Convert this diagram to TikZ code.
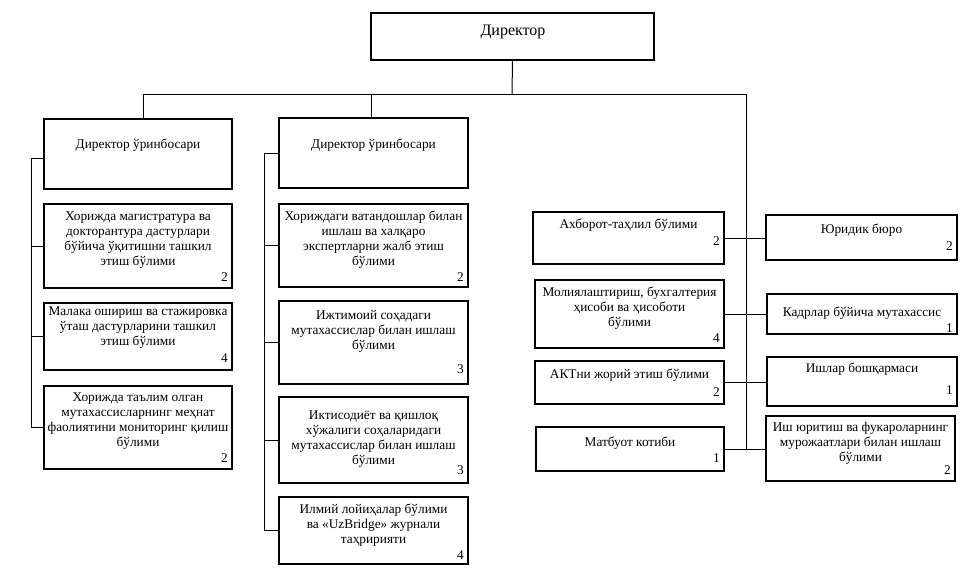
\documentclass[tikz,border=0pt]{standalone}
\usepackage{fontspec}
\setmainfont{Liberation Serif}
\tikzset{
  orgbox/.style={draw=black, line width=1pt, inner sep=0pt, outer sep=0pt},
  orgtxt/.style={inner sep=0pt, align=center, font=\fontsize{10}{11.25}\selectfont},
  orgnum/.style={inner sep=0pt, font=\fontsize{10}{11.25}\selectfont},
  link/.style={draw=black, line width=0.75pt}
}
% #1 name, #2 x1, #3 y1, #4 x2, #5 y2, #6 text top, #7 text, #8 number baseline, #9 number
\newcommand{\orgunit}[9]{%
  \node[orgbox, minimum width={(#4-#2)*0.75pt}, minimum height={(#5-#3)*0.75pt}] (#1) at ({(#2+#4)/2},{(#3+#5)/2}) {};
  \node[orgtxt, anchor=north] (#1t) at ({(#2+#4)/2},#6) {#7};
  \node[orgnum, anchor=base east] (#1n) at ({#4-4},#8) {#9};
}
\begin{document}
\begin{tikzpicture}[x=0.75pt, y=-0.75pt]
\useasboundingbox (0,0) rectangle (962,572);
\fill[white] (0,0) rectangle (962,572);

\node[orgbox, minimum width={(654-371)*0.75pt}, minimum height={(60-13)*0.75pt}] (dir) at (512.5,36.5) {};
\node[orgtxt, anchor=north, font=\fontsize{12}{14}\selectfont] (dirt) at (513,25) {Директор};

\orgunit{d1}{44}{119}{232}{189}{139}{Директор ўринбосари}{183}{}
\orgunit{a1}{44}{204}{232}{288}{211}{Хорижда магистратура ва\\докторантура дастурлари\\бўйича ўқитишни ташкил\\этиш бўлими}{281}{2}
\orgunit{a2}{44}{303}{232}{370}{306}{Малака ошириш ва стажировка\\ўташ дастурларини ташкил\\этиш бўлими}{362}{4}
\orgunit{a3}{44}{386}{232}{469}{392}{Хорижда таълим олган\\мутахассисларнинг меҳнат\\фаолиятини мониторинг қилиш\\бўлими}{462}{2}

\orgunit{d2}{279}{118}{468}{188}{139}{Директор ўринбосари}{183}{}
\orgunit{b1}{279}{204}{468}{287}{211}{Хориждаги ватандошлар билан\\ишлаш ва халқаро\\экспертларни жалб этиш\\бўлими}{281}{2}
\orgunit{b2}{279}{301}{468}{384}{310}{Ижтимоий соҳадаги\\мутахассислар билан ишлаш\\бўлими}{373}{3}
\orgunit{b3}{279}{397}{468}{483}{410}{Иктисодиёт ва қишлоқ\\хўжалиги соҳаларидаги\\мутахассислар билан ишлаш\\бўлими}{474}{3}
\orgunit{b4}{279}{497}{468}{564}{504}{Илмий лойиҳалар бўлими\\ва «UzBridge» журнали\\таҳририяти}{559}{4}

\orgunit{c1}{533}{212}{724}{264}{219}{Ахборот-таҳлил бўлими}{245}{2}
\orgunit{c2}{535}{280}{724}{348}{287}{Молиялаштириш, бухгалтерия\\ҳисоби ва ҳисоботи\\бўлими}{342}{4}
\orgunit{c3}{535}{361}{724}{404}{369}{АКТни жорий этиш бўлими}{396}{2}
\orgunit{c4}{536}{427}{724}{471}{437}{Матбуот котиби}{462}{1}

\orgunit{r1}{766}{215}{957}{260}{224}{Юридик бюро}{250}{2}
\orgunit{r2}{767}{294}{957}{334}{307}{Кадрлар бўйича мутахассис}{332}{1}
\orgunit{r3}{767}{357}{957}{406}{363}{Ишлар бошқармаси}{394}{1}
\orgunit{r4}{766}{416}{955}{481}{422}{Иш юритиш ва фукароларнинг\\мурожаатлари билан ишлаш\\бўлими}{474}{2}

% top connectors
\coordinate (j) at (512,94);
\coordinate (hl) at (143,94);
\coordinate (hm) at (371,94);
\coordinate (hr) at (746,94);
\draw[link] (dir.south) -- (j);
\draw[link] (hl) -- (hr);
\draw[link] (hl) -- (hl |- d1.north);
\draw[link] (hm) -- (hm |- d2.north);
\draw[link] (hr) -- (hr |- c4.east);

% left column
\coordinate (l1) at (31,158);
\draw[link] (l1 -| d1.west) -- (l1) -- (l1 |- a3.west) -- (a3.west);
\draw[link] (a1.west) -- (a1.west -| l1);
\draw[link] (a2.west) -- (a2.west -| l1);

% middle column
\coordinate (l2) at (264,153);
\draw[link] (l2 -| d2.west) -- (l2) -- (l2 |- b4.west) -- (b4.west);
\draw[link] (b1.west) -- (b1.west -| l2);
\draw[link] (b2.west) -- (b2.west -| l2);
\draw[link] (b3.west) -- (b3.west -| l2);

% right side
\draw[link] (c1.east) -- (c1.east -| r1.west);
\draw[link] (c2.east) -- (c2.east -| r2.west);
\draw[link] (c3.east) -- (c3.east -| r3.west);
\draw[link] (c4.east) -- (c4.east -| r4.west);
\end{tikzpicture}
\end{document}
